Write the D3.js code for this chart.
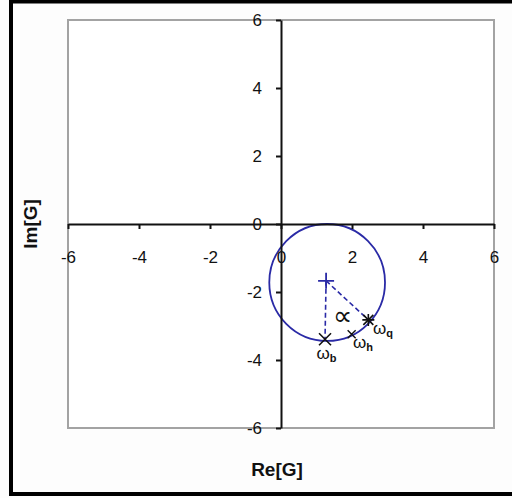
<!DOCTYPE html>
<html>
<head>
<meta charset="utf-8">
<script src="https://cdn.jsdelivr.net/npm/d3@7"></script>
<style>
  html, body { margin: 0; padding: 0; background: #fdfdfd; }
  svg { display: block; }
  text { font-family: "Liberation Sans", Arial, sans-serif; fill: #111; }
</style>
</head>
<body>
<svg id="chart" width="512" height="498"></svg>
<script>
// Axis ticks
const xTicks = [-6, -4, -2, 0, 2, 4, 6];
const yTicks = [-6, -4, -2, 0, 2, 4, 6];

// Nyquist locus: circle centre and radii (Re, Im)
const circleCenter = [1.30, -1.72];
const circleRadius = [1.63, 1.72];

// Marked points on the locus
const centerPoint = [1.27, -1.67];
const omegaB = [1.24, -3.39];
const omegaH = [1.99, -3.24];
const omegaQ = [2.46, -2.82];

// Labels next to points: [Re, Im, subscript]
const pointLabels = [
  [1.00, -3.96, "b"],
  [2.03, -3.66, "h"],
  [2.59, -3.23, "q"]
];

const svg = d3.select("#chart");
const W = 512, H = 498;

// Outer black frame (right edge lies outside the picture)
svg.append("rect").attr("x", 11).attr("y", 1.5).attr("width", W + 10).attr("height", H - 5.5)
  .attr("fill", "#fdfdfd").attr("stroke", "#000").attr("stroke-width", 4);

const x = d3.scaleLinear().domain([-6, 6]).range([68, 494]);
const y = d3.scaleLinear().domain([-6, 6]).range([428, 20]);

// Plot area
svg.append("rect").attr("x", x(-6)).attr("y", y(6))
  .attr("width", x(6) - x(-6)).attr("height", y(-6) - y(6))
  .attr("fill", "#ffffff").attr("stroke", "#a3a3a3").attr("stroke-width", 2);

// Locus circle
const blue = "#2a2aa6";
svg.append("ellipse")
  .attr("cx", x(circleCenter[0])).attr("cy", y(circleCenter[1]))
  .attr("rx", x(circleRadius[0]) - x(0)).attr("ry", y(0) - y(circleRadius[1]))
  .attr("fill", "none").attr("stroke", blue).attr("stroke-width", 1.8);

// Axes crossing at the origin (plain hyphen for negatives)
const fmt = d => String(d);
const xAxis = d3.axisBottom(x).tickValues(xTicks).tickFormat(fmt).tickSizeInner(5).tickSizeOuter(0).tickPadding(22);
const yAxis = d3.axisLeft(y).tickValues(yTicks).tickFormat(fmt).tickSizeInner(5).tickSizeOuter(0).tickPadding(14);

const gx = svg.append("g").attr("transform", `translate(0,${y(0)})`).call(xAxis);
const gy = svg.append("g").attr("transform", `translate(${x(0)},0)`).call(yAxis);
[gx, gy].forEach(g => {
  g.select(".domain").attr("stroke", "#111").attr("stroke-width", 2);
  g.selectAll(".tick line").attr("stroke", "#111").attr("stroke-width", 2);
  g.selectAll(".tick text").attr("font-size", 17).attr("fill", "#111")
    .attr("font-family", "Liberation Sans, Arial, sans-serif");
});

// Dashed radii from centre
[omegaB, omegaQ].forEach(p => {
  svg.append("line")
    .attr("x1", x(centerPoint[0])).attr("y1", y(centerPoint[1]))
    .attr("x2", x(p[0])).attr("y2", y(p[1]))
    .attr("stroke", blue).attr("stroke-width", 1.6).attr("stroke-dasharray", "5,3");
});

// Marker drawing helpers
function plus(p, s, color, w) {
  svg.append("path")
    .attr("d", `M${x(p[0]) - s},${y(p[1])}h${2 * s}M${x(p[0])},${y(p[1]) - s}v${2 * s}`)
    .attr("stroke", color).attr("stroke-width", w).attr("fill", "none");
}
function cross(p, s, color, w) {
  svg.append("path")
    .attr("d", `M${x(p[0]) - s},${y(p[1]) - s}l${2 * s},${2 * s}M${x(p[0]) - s},${y(p[1]) + s}l${2 * s},${-2 * s}`)
    .attr("stroke", color).attr("stroke-width", w).attr("fill", "none");
}

plus(centerPoint, 8, blue, 1.8);
cross(omegaB, 6, "#111", 1.6);
cross(omegaH, 4, "#111", 1.4);
cross(omegaQ, 5, "#111", 1.6);
plus(omegaQ, 6, "#111", 1.6);

// Angle symbol
svg.append("text").attr("x", x(1.72)).attr("y", y(-2.96))
  .attr("text-anchor", "middle").attr("font-size", 27).attr("fill", "#222").text("\u221D");

// Omega labels
pointLabels.forEach(d => {
  const t = svg.append("text").attr("x", x(d[0])).attr("y", y(d[1])).attr("font-size", 17);
  t.append("tspan").text("\u03C9");
  t.append("tspan").attr("font-size", 11).attr("font-weight", "bold").attr("dy", 3).text(d[2]);
});

// Axis titles
svg.append("text").attr("x", 277).attr("y", 476).attr("text-anchor", "middle")
  .attr("font-size", 19).attr("font-weight", "bold").text("Re[G]");
svg.append("text").attr("transform", "translate(37,224) rotate(-90)").attr("text-anchor", "middle")
  .attr("font-size", 19).attr("font-weight", "bold").text("Im[G]");
</script>
</body>
</html>
